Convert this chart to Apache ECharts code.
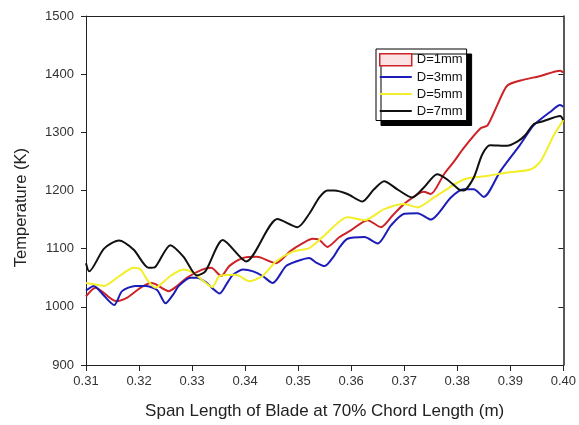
<!DOCTYPE html>
<html>
<head>
<meta charset="utf-8">
<script src="https://cdn.jsdelivr.net/npm/echarts@6/dist/echarts.min.js"></script>
<style>html,body{margin:0;padding:0;background:#fff}#c{width:579px;height:425px}</style>
</head>
<body>
<div id="c"></div>
<script>
var seriesNames = ['D=1mm', 'D=3mm', 'D=5mm', 'D=7mm'];
var xTicks = ['0.31','0.32','0.33','0.34','0.35','0.36','0.37','0.38','0.39','0.40'];

var xD1 = [0.310,0.3118,0.3156,0.3178,0.3203,0.3222,0.3231,0.3256,0.3272,0.3290,0.3319,0.3336,0.3355,0.3370,0.3396,0.3422,0.3458,0.3484,0.3508,0.3527,0.3540,0.3555,0.3578,0.3600,0.3631,0.3656,0.3678,0.3700,0.3737,0.3750,0.3775,0.3794,0.3812,0.3844,0.3857,0.3875,0.3894,0.3919,0.3957,0.3994,0.400];
var yD1 = [1018,1033,1010,1016,1033,1041,1039,1027,1036,1050,1064,1067,1053,1070,1084,1086,1075,1095,1109,1117,1115,1103,1120,1132,1149,1137,1157,1177,1198,1194,1228,1250,1273,1307,1312,1346,1380,1389,1397,1406,1403];

var xD3 = [0.310,0.3115,0.3134,0.3153,0.3168,0.3193,0.3212,0.3234,0.3250,0.3265,0.3275,0.3297,0.3309,0.3328,0.3337,0.3352,0.3365,0.3377,0.3396,0.3415,0.3433,0.3452,0.3477,0.3496,0.3521,0.3534,0.3550,0.3565,0.3577,0.3593,0.3625,0.3650,0.3675,0.3700,0.3725,0.3750,0.3788,0.3812,0.3831,0.3850,0.3881,0.3918,0.3944,0.3975,0.3994,0.400];
var yD3 = [1028,1036,1019,1003,1027,1036,1036,1029,1006,1022,1036,1050,1050,1041,1033,1023,1039,1055,1064,1061,1053,1041,1070,1078,1084,1076,1070,1084,1101,1117,1120,1109,1140,1160,1161,1150,1188,1202,1202,1189,1233,1278,1312,1335,1347,1344];

var xD5 = [0.310,0.3115,0.3134,0.3163,0.3190,0.3203,0.3215,0.3231,0.3259,0.3284,0.3303,0.3322,0.3338,0.3352,0.3383,0.3408,0.3433,0.3458,0.3490,0.3521,0.3546,0.3577,0.3593,0.3625,0.3662,0.3700,0.3725,0.3756,0.3812,0.3857,0.3894,0.3938,0.3957,0.3982,0.400];
var yD5 = [1041,1039,1036,1053,1067,1064,1047,1033,1053,1064,1058,1044,1034,1053,1055,1044,1053,1078,1095,1101,1120,1146,1154,1149,1168,1177,1171,1188,1219,1225,1231,1236,1250,1295,1321];

var xD7 = [0.310,0.3106,0.3134,0.3162,0.3190,0.3218,0.3231,0.3259,0.3284,0.3309,0.3325,0.3358,0.3402,0.3461,0.3499,0.3521,0.3540,0.3555,0.3568,0.3593,0.3621,0.3643,0.3662,0.3687,0.3715,0.3737,0.3762,0.3781,0.3803,0.3812,0.3831,0.3847,0.3862,0.3894,0.3913,0.3928,0.3944,0.3962,0.3994,0.400];
var yD7 = [1075,1061,1100,1114,1098,1067,1069,1106,1086,1054,1061,1115,1078,1151,1137,1160,1188,1200,1200,1194,1181,1202,1216,1202,1188,1205,1228,1219,1202,1200,1222,1262,1278,1277,1284,1295,1314,1319,1328,1321];

var colors = ['#cc2228', '#1c1cb8', '#f2ee2a', '#111111'];
var xs = [xD1, xD3, xD5, xD7];
var ys = [yD1, yD3, yD5, yD7];

function zip(a, b) { return a.map(function (v, i) { return [v, b[i]]; }); }

var FONT = 'Liberation Sans, Arial, sans-serif';
var LINE_ICON = 'path://M0,0 H30 V2 H0 Z';
var chart = echarts.init(document.getElementById('c'));
var series = seriesNames.map(function (n, i) {
  return {
    name: n, type: 'line', data: zip(xs[i], ys[i]), smooth: 0.25,
    symbol: 'none', showSymbol: false, lineStyle: { color: colors[i], width: 2 }, itemStyle: { color: colors[i] }
  };
});
chart.setOption({
  animation: false,
  grid: { left: 86, right: 14, top: 16, bottom: 55, show: false },
  xAxis: [{
    type: 'value', min: 0.31, max: 0.40, interval: 0.01,
    name: 'Span Length of Blade at 70% Chord Length (m)', nameLocation: 'middle', nameGap: 38,
    nameTextStyle: { fontFamily: FONT, fontSize: 17, color: '#222' },
    axisLine: { show: true, lineStyle: { color: '#222', width: 1 } },
    axisTick: { show: true, inside: false, length: 6, lineStyle: { color: '#222' } },
    axisLabel: { margin: 10, fontFamily: FONT, fontSize: 13, color: '#333',
      formatter: function (v) { return v.toFixed(2); } },
    splitLine: { show: false }
  }, {
    type: 'value', position: 'top', min: 0.31, max: 0.40, interval: 0.01,
    axisLine: { show: true, onZero: false, lineStyle: { color: '#222', width: 1 } },
    axisTick: { show: false }, axisLabel: { show: false }, splitLine: { show: false }
  }],
  yAxis: [{
    type: 'value', min: 900, max: 1500, interval: 100,
    axisLine: { show: true, lineStyle: { color: '#222', width: 1 } },
    axisTick: { show: true, inside: false, length: 5, lineStyle: { color: '#222' } },
    axisLabel: { margin: 12, fontFamily: FONT, fontSize: 13, color: '#333',
      formatter: function (v) { return String(v); } },
    splitLine: { show: false }
  }, {
    type: 'value', position: 'right', min: 900, max: 1500, interval: 100,
    axisLine: { show: true, onZero: false, lineStyle: { color: '#222', width: 1.5 } },
    axisTick: { show: true, inside: true, length: 5, lineStyle: { color: '#222' } },
    axisLabel: { show: false }, splitLine: { show: false }
  }],
  legend: {
    orient: 'vertical', left: 376, top: 49,
    backgroundColor: '#fff', borderColor: '#000', borderWidth: 1,
    shadowColor: '#000', shadowOffsetX: 5, shadowOffsetY: 5, shadowBlur: 0,
    padding: [4, 4, 3, 3], itemGap: 4, itemWidth: 32, itemHeight: 12,
    textStyle: { fontFamily: FONT, fontSize: 13, color: '#111' },
    data: [
      { name: 'D=1mm', icon: 'rect', itemStyle: { color: '#fbe3e3', borderColor: '#cc2228', borderWidth: 1.5 } },
      { name: 'D=3mm', icon: LINE_ICON },
      { name: 'D=5mm', icon: LINE_ICON },
      { name: 'D=7mm', icon: LINE_ICON }
    ]
  },
  graphic: [{
    type: 'text', left: 13, top: 148,
    rotation: Math.PI / 2,
    style: { text: 'Temperature (K)', font: '16.5px Liberation Sans, Arial, sans-serif', fill: '#222' }
  }],
  series: series
});
</script>
</body>
</html>
